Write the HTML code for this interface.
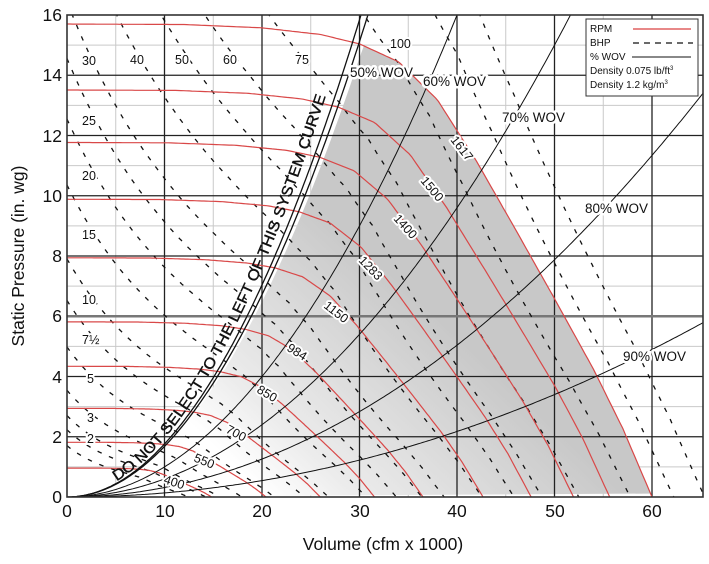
<!DOCTYPE html>
<html><head><meta charset="utf-8"><style>
html,body{margin:0;padding:0;background:#fff;width:709px;height:564px;overflow:hidden}
svg{display:block;font-family:"Liberation Sans",Arial,sans-serif}
.lbl{font-size:12.5px;fill:#111;paint-order:stroke;stroke:#fff;stroke-width:4px;stroke-linejoin:round}
.wov{font-size:13.5px;fill:#111;paint-order:stroke;stroke:#fff;stroke-width:5px;stroke-linejoin:round}
.tk{font-size:17.5px;fill:#111}
</style></head><body>
<svg id="s" width="709" height="564" viewBox="0 0 709 564" xmlns="http://www.w3.org/2000/svg">
<defs>
<clipPath id="cp"><rect x="67" y="15" width="636" height="482"/></clipPath>
<linearGradient id="gg" gradientUnits="userSpaceOnUse" x1="250" y1="480" x2="420" y2="300">
<stop offset="0" stop-color="#ffffff"/><stop offset="0.25" stop-color="#ececec"/><stop offset="1" stop-color="#c8c8c8"/></linearGradient>
</defs>
<g id="grid"></g>
<g id="plot" clip-path="url(#cp)"></g>
<rect x="67" y="15" width="636" height="482" fill="none" stroke="#333" stroke-width="1.6"/>
<g id="labels">
<text class="lbl" transform="translate(450,140) rotate(52)">1617</text>
<text class="lbl" transform="translate(420,181) rotate(50)">1500</text>
<text class="lbl" transform="translate(393,219) rotate(48)">1400</text>
<text class="lbl" transform="translate(358,261) rotate(46)">1283</text>
<text class="lbl" transform="translate(323,307) rotate(38)">1150</text>
<text class="lbl" transform="translate(286,350) rotate(32)">984</text>
<text class="lbl" transform="translate(256,392) rotate(30)">850</text>
<text class="lbl" transform="translate(225,432) rotate(28)">700</text>
<text class="lbl" transform="translate(193,461) rotate(22)">550</text>
<text class="lbl" transform="translate(163,483) rotate(18)">400</text>
<text class="wov" x="350" y="77">50% WOV</text>
<text class="wov" x="423" y="86">60% WOV</text>
<text class="wov" x="502" y="122">70% WOV</text>
<text class="wov" x="585" y="213">80% WOV</text>
<text class="wov" x="623" y="361">90% WOV</text>
<text class="lbl" x="82" y="65">30</text>
<text class="lbl" x="130" y="64">40</text>
<text class="lbl" x="175" y="64">50</text>
<text class="lbl" x="223" y="64">60</text>
<text class="lbl" x="295" y="64">75</text>
<text class="lbl" x="390" y="48">100</text>
<text class="lbl" x="82" y="125">25</text>
<text class="lbl" x="82" y="180">20</text>
<text class="lbl" x="82" y="239">15</text>
<text class="lbl" x="82" y="304">10</text>
<text class="lbl" x="82" y="344">7½</text>
<text class="lbl" x="87" y="383">5</text>
<text class="lbl" x="87" y="422">3</text>
<text class="lbl" x="87" y="443">2</text>
<text font-size="15" fill="#111" stroke="#111" stroke-width="0.4"><textPath href="#tp" textLength="445" lengthAdjust="spacingAndGlyphs">DO NOT SELECT TO THE LEFT OF THIS SYSTEM CURVE</textPath></text>
</g>
<g id="legend">
<rect x="586" y="19" width="112" height="77" fill="#fff" stroke="#333" stroke-width="1"/>
<text x="590" y="32" font-size="10" fill="#111">RPM</text>
<line x1="633" y1="29" x2="691" y2="29" stroke="#d94040" stroke-width="1.2"/>
<text x="590" y="46" font-size="10" fill="#111">BHP</text>
<line x1="633" y1="43" x2="693" y2="43" stroke="#111" stroke-width="1.2" stroke-dasharray="6 5"/>
<text x="590" y="60" font-size="10" fill="#111">% WOV</text>
<line x1="632" y1="57" x2="691" y2="57" stroke="#111" stroke-width="1"/>
<text x="590" y="74" font-size="10" fill="#111">Density  0.075 lb/ft<tspan font-size="6" dy="-4">3</tspan></text>
<text x="590" y="88" font-size="10" fill="#111">Density  1.2 kg/m<tspan font-size="6" dy="-4">3</tspan></text>
</g>
<g class="tk">
<text x="62" y="21" text-anchor="end">16</text>
<text x="62" y="81" text-anchor="end">14</text>
<text x="62" y="142" text-anchor="end">12</text>
<text x="62" y="202" text-anchor="end">10</text>
<text x="62" y="262" text-anchor="end">8</text>
<text x="62" y="322" text-anchor="end">6</text>
<text x="62" y="383" text-anchor="end">4</text>
<text x="62" y="443" text-anchor="end">2</text>
<text x="62" y="503" text-anchor="end">0</text>
<text x="67" y="517" text-anchor="middle">0</text>
<text x="165" y="517" text-anchor="middle">10</text>
<text x="262" y="517" text-anchor="middle">20</text>
<text x="360" y="517" text-anchor="middle">30</text>
<text x="457" y="517" text-anchor="middle">40</text>
<text x="555" y="517" text-anchor="middle">50</text>
<text x="652" y="517" text-anchor="middle">60</text>
<text x="383" y="550" text-anchor="middle">Volume (cfm x 1000)</text>
<text transform="translate(24,256) rotate(-90)" text-anchor="middle">Static Pressure (in. wg)</text>
</g>
</svg>
<script>
(function(){
var NS="http://www.w3.org/2000/svg";
function X(q){return 67+q*9.75;}
function Y(p){return 497-p*30.125;}
function el(par,tag,a){var e=document.createElementNS(NS,tag);for(var k in a)e.setAttribute(k,a[k]);par.appendChild(e);return e;}
var grid=document.getElementById('grid'),plot=document.getElementById('plot'),svg=document.getElementById('s');
for(var q=5;q<65;q+=10)el(grid,'line',{x1:X(q),y1:15,x2:X(q),y2:497,stroke:'#c9c9c9','stroke-width':1});
for(var p=1;p<16;p+=2)el(grid,'line',{x1:67,y1:Y(p),x2:703,y2:Y(p),stroke:'#c9c9c9','stroke-width':1});
var U=[0,.2,.333,.433,.5,.567,.633,.7,.767,.833,.9,.95,1];
var R=[1,.999,.992,.978,.958,.92,.84,.71,.565,.42,.27,.145,0];
function fr(u){if(u<=0)return 1;if(u>=1)return 0;for(var i=1;i<U.length;i++){if(u<=U[i]){var t=(u-U[i-1])/(U[i]-U[i-1]);return R[i-1]+t*(R[i]-R[i-1]);}}return 0;}
function P1(q){var e=Math.max(0,q-30);return 28+2.15*q-0.05*e*e;}
function pathOf(pts){return pts.map(function(a,i){return (i?'L':'M')+a[0].toFixed(1)+','+a[1].toFixed(1);}).join('');}
function fan(r){var pts=[];for(var u=0;u<=1.0001;u+=0.005)pts.push([X(60*u*r),Y(15.7*fr(u)*r*r)]);return pts;}
var k0=0.0162,qi=0;for(var q2=20;q2<40;q2+=0.05){var u=q2/60;if(k0*q2*q2>=15.7*fr(u)){qi=q2;break;}}
var g=[];for(var q3=0;q3<=qi;q3+=0.5)g.push([X(q3),Y(k0*q3*q3)]);
for(var u2=qi/60;u2<=1.0001;u2+=0.005)g.push([X(60*u2),Y(15.7*fr(u2))]);
el(plot,'path',{d:pathOf(g)+'Z',fill:'url(#gg)'});
for(var q4=10;q4<65;q4+=10)el(plot,'line',{x1:X(q4),y1:15,x2:X(q4),y2:497,stroke:'#222','stroke-width':1.3});
for(var p2=2;p2<16;p2+=2)el(plot,'line',{x1:67,y1:Y(p2),x2:703,y2:Y(p2),stroke:p2==6?'#777':'#222','stroke-width':p2==6?2.6:1.3});
var B=[1,1.5,2,3,5,7.5,10,15,20,25,30,40,50,60,75,100,125,145];
B.forEach(function(b){var pts=[];for(var u=0;u<=1.0001;u+=0.004){var r=Math.cbrt(b/P1(60*u));var q=60*u*r,p=15.7*fr(u)*r*r;pts.push([X(q),Y(p)]);}
el(plot,'path',{d:pathOf(pts),fill:'none',stroke:'#111','stroke-width':1.3,'stroke-dasharray':'4.5 8'});});
[1617,1500,1400,1283,1150,984,850,700,550,400].forEach(function(n){el(plot,'path',{d:pathOf(fan(n/1617)),fill:'none',stroke:'#d94848','stroke-width':1.2});});
[[.0176,1.3],[.0168,1.3],[.0100,1],[.0060,1],[.00315,1],[.00136,1]].forEach(function(s){var pts=[];for(var q=0;q<=66;q+=0.25){var p=s[0]*q*q;pts.push([X(q),Y(p)]);if(p>16.5)break;}
el(plot,'path',{d:pathOf(pts),fill:'none',stroke:'#111','stroke-width':s[1]});});
var tp=[];for(var q5=5.3;q5<=29;q5+=0.25)tp.push([X(q5)-2,Y(0.0186*q5*q5)]);
var defs=svg.querySelector('defs');el(defs,'path',{id:'tp',d:pathOf(tp)});
svg.appendChild(document.getElementById('labels'));
svg.appendChild(document.getElementById('legend'));
})();
</script>
</body></html>
